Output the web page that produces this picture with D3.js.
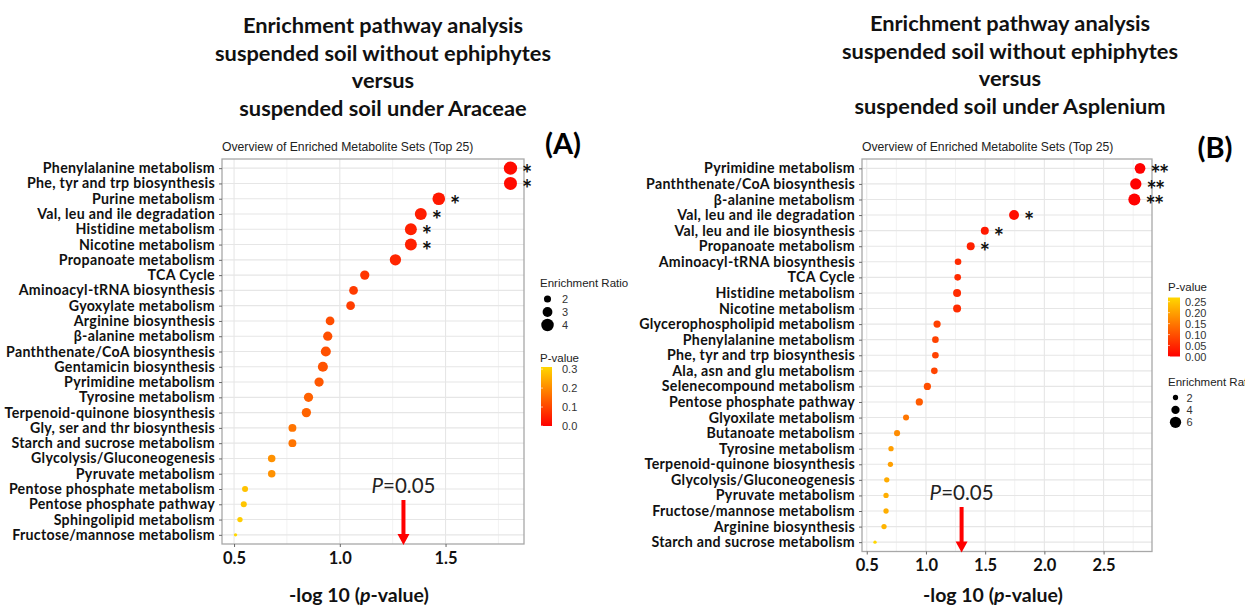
<!DOCTYPE html>
<html>
<head>
<meta charset="utf-8">
<script src="https://cdn.jsdelivr.net/npm/d3@7"></script>
<style>
    body { margin: 0; background: #fff; }
    svg text { font-family: Lato, 'Noto Sans', sans-serif; }
    .legend text, .subtitle { font-family: 'Liberation Sans', Arial, sans-serif; }
</style>
</head>
<body>
<svg id="chart" width="1245" height="607"></svg>
<script>
// Panel A: without ephiphytes vs Araceae
const pathwaysA = [
    'Phenylalanine metabolism', 'Phe, tyr and trp biosynthesis', 'Purine metabolism',
    'Val, leu and ile degradation', 'Histidine metabolism', 'Nicotine metabolism',
    'Propanoate metabolism', 'TCA Cycle', 'Aminoacyl-tRNA biosynthesis', 'Gyoxylate metabolism',
    'Arginine biosynthesis', 'β-alanine metabolism', 'Panththenate/CoA biosynthesis',
    'Gentamicin biosynthesis', 'Pyrimidine metabolism', 'Tyrosine metabolism',
    'Terpenoid-quinone biosynthesis', 'Gly, ser and thr biosynthesis', 'Starch and sucrose metabolism',
    'Glycolysis/Gluconeogenesis', 'Pyruvate metabolism', 'Pentose phosphate metabolism',
    'Pentose phosphate pathway', 'Sphingolipid metabolism', 'Fructose/mannose metabolism'
];
const logPA = [1.807, 1.807, 1.468, 1.383, 1.336, 1.336, 1.263, 1.118, 1.065, 1.051, 0.954, 0.943,
    0.934, 0.92, 0.902, 0.852, 0.842, 0.776, 0.776, 0.678, 0.678, 0.552, 0.546, 0.528, 0.507];
const ratioA = [4.3, 4.2, 4.05, 3.8, 3.8, 3.8, 3.55, 2.8, 2.6, 2.6, 2.6, 2.8, 3.1, 3.1, 2.8, 2.8,
    2.8, 2.3, 2.3, 2.15, 2.15, 1.6, 1.6, 1.35, 0.6];
const starsA = ['*', '*', '*', '*', '*', '*'];
const xTicksA = [0.5, 1.0, 1.5];
const xMinorA = [0.75, 1.25, 1.75];
const ratioKeysA = [2, 3, 4];
const pKeysA = [0, 0.1, 0.2, 0.3];
const titleA = ['Enrichment pathway analysis', 'suspended soil without ephiphytes', 'versus',
    'suspended soil under Araceae'];

// Panel B: without ephiphytes vs Asplenium
const pathwaysB = [
    'Pyrimidine metabolism', 'Panththenate/CoA biosynthesis', 'β-alanine metabolism',
    'Val, leu and ile degradation', 'Val, leu and ile biosynthesis', 'Propanoate metabolism',
    'Aminoacyl-tRNA biosynthesis', 'TCA Cycle', 'Histidine metabolism', 'Nicotine metabolism',
    'Glycerophospholipid metabolism', 'Phenylalanine metabolism', 'Phe, tyr and trp biosynthesis',
    'Ala, asn and glu metabolism', 'Selenecompound metabolism', 'Pentose phosphate pathway',
    'Glyoxilate metabolism', 'Butanoate metabolism', 'Tyrosine metabolism',
    'Terpenoid-quinone biosynthesis', 'Glycolysis/Gluconeogenesis', 'Pyruvate metabolism',
    'Fructose/mannose metabolism', 'Arginine biosynthesis', 'Starch and sucrose metabolism'
];
const logPB = [2.808, 2.772, 2.76, 1.744, 1.497, 1.378, 1.271, 1.268, 1.263, 1.263, 1.094, 1.08,
    1.08, 1.071, 1.012, 0.944, 0.832, 0.756, 0.705, 0.7, 0.669, 0.663, 0.663, 0.646, 0.57];
const ratioB = [5.6, 6.0, 6.5, 5.1, 3.8, 3.8, 2.9, 2.9, 3.8, 3.8, 3.3, 2.9, 2.9, 2.9, 3.3, 3.3,
    2.5, 2.5, 2.0, 2.0, 2.0, 2.0, 2.0, 2.0, 0.7];
const starsB = ['**', '**', '**', '*', '*', '*'];
const xTicksB = [0.5, 1.0, 1.5, 2.0, 2.5];
const xMinorB = [0.75, 1.25, 1.75, 2.25, 2.75];
const ratioKeysB = [2, 4, 6];
const pKeysB = [0, 0.05, 0.1, 0.15, 0.2, 0.25];
const titleB = ['Enrichment pathway analysis', 'suspended soil without ephiphytes', 'versus',
    'suspended soil under Asplenium'];

const subtitle = 'Overview of Enriched Metabolite Sets (Top 25)';
const pCut = 0.05;

const svg = d3.select('#chart');
svg.append('rect').attr('width', 1245).attr('height', 607).attr('fill', '#fff');

function drawPanel(c) {
    const g = svg.append('g');
    const x = d3.scaleLinear().domain(c.xDomain).range([c.left, c.right]);
    const y = d3.scalePoint().domain(c.names).range([c.top, c.bottom]).padding(0.6);
    const pvals = c.logP.map((v) => Math.pow(10, -v));
    const pMax = d3.max(pvals);
    const color = d3.scaleLinear().domain([0, pMax]).range(['#ff0000', '#ffd700']);
    const r = d3.scaleLinear().domain(c.rDomain).range(c.rRange);

    // Titles
    g.append('g')
        .selectAll('text')
        .data(c.title)
        .join('text')
        .attr('x', c.titleX)
        .attr('y', (d, i) => c.titleY + i * 27.5)
        .attr('text-anchor', 'middle')
        .attr('font-size', 21.8)
        .attr('font-weight', 'bold')
        .attr('fill', '#111')
        .text((d) => d);

    g.append('text')
        .attr('x', c.tagX)
        .attr('y', c.tagY)
        .attr('text-anchor', 'middle')
        .attr('font-size', 29)
        .attr('font-weight', 'bold')
        .text(c.tag);

    g.append('text')
        .attr('class', 'subtitle')
        .attr('x', c.left)
        .attr('y', c.top - 8)
        .attr('font-size', 12.2)
        .attr('fill', '#222')
        .text(subtitle);

    // Grid
    g.append('g')
        .selectAll('line')
        .data(c.xMinor.filter((v) => x(v) < c.right))
        .join('line')
        .attr('x1', (d) => x(d)).attr('x2', (d) => x(d))
        .attr('y1', c.top).attr('y2', c.bottom)
        .attr('stroke', '#f2f2f2').attr('stroke-width', 1);
    g.append('g')
        .selectAll('line')
        .data(c.xTicks)
        .join('line')
        .attr('x1', (d) => x(d)).attr('x2', (d) => x(d))
        .attr('y1', c.top).attr('y2', c.bottom)
        .attr('stroke', '#e6e6e6').attr('stroke-width', 1.1);
    g.append('g')
        .selectAll('line')
        .data(c.names)
        .join('line')
        .attr('x1', c.left).attr('x2', c.right)
        .attr('y1', (d) => y(d)).attr('y2', (d) => y(d))
        .attr('stroke', '#e6e6e6').attr('stroke-width', 1.1);
    g.append('rect')
        .attr('x', c.left).attr('y', c.top)
        .attr('width', c.right - c.left).attr('height', c.bottom - c.top)
        .attr('fill', 'none').attr('stroke', '#a8a8a8').attr('stroke-width', 1.3);

    // Axes
    const xAxis = g.append('g')
        .attr('transform', `translate(0,${c.bottom})`)
        .call(d3.axisBottom(x).tickValues(c.xTicks).tickFormat(d3.format('.1f')).tickSize(3).tickPadding(5));
    const yAxis = g.append('g')
        .attr('transform', `translate(${c.left},0)`)
        .call(d3.axisLeft(y).tickSize(3).tickPadding(4));
    [xAxis, yAxis].forEach((a) => {
        a.select('.domain').remove();
        a.selectAll('.tick line').attr('stroke', '#666');
        a.selectAll('.tick text')
            .attr('fill', '#111')
            .attr('font-family', 'Lato, sans-serif')
            .attr('font-weight', 'bold');
    });
    xAxis.selectAll('.tick text').attr('font-size', 16.5);
    yAxis.selectAll('.tick text').attr('font-size', 14.2).attr('letter-spacing', 0.3);

    const xt = g.append('text')
        .attr('x', (c.left + c.right) / 2 - 14)
        .attr('y', 602)
        .attr('text-anchor', 'middle')
        .attr('font-size', 19.5)
        .attr('font-weight', 'bold')
        .attr('fill', '#111');
    xt.append('tspan').text('-log 10 (');
    xt.append('tspan').attr('font-style', 'italic').text('p');
    xt.append('tspan').text('-value)');

    // Points
    const rows = c.names.map((n, i) => ({ name: n, lp: c.logP[i], p: pvals[i], er: c.ratio[i], star: c.stars[i] || '' }));
    g.append('g')
        .selectAll('circle')
        .data(rows)
        .join('circle')
        .attr('cx', (d) => x(d.lp))
        .attr('cy', (d) => y(d.name))
        .attr('r', (d) => r(d.er))
        .attr('fill', (d) => color(d.p));

    g.append('g')
        .selectAll('text')
        .data(rows.filter((d) => d.star))
        .join('text')
        .attr('x', (d) => x(d.lp) + r(d.er) + 5)
        .attr('y', (d) => y(d.name) + 15)
        .attr('font-family', "'DejaVu Sans', sans-serif")
        .attr('font-weight', 'bold')
        .attr('font-size', 24)
        .attr('letter-spacing', -1.5)
        .attr('fill', '#111')
        .text((d) => d.star);

    // P = 0.05 arrow
    const ax = x(-Math.log10(pCut));
    const at = g.append('text')
        .attr('x', ax)
        .attr('y', c.arrowTop - 7)
        .attr('text-anchor', 'middle')
        .attr('font-size', 20.5)
        .attr('fill', '#222');
    at.append('tspan').attr('font-style', 'italic').text('P');
    at.append('tspan').text('=0.05');
    const tip = c.bottom + 1;
    g.append('path')
        .attr('d', `M${ax - 2},${c.arrowTop}H${ax + 2}V${tip - 11}H${ax + 6}L${ax},${tip}L${ax - 6},${tip - 11}H${ax - 2}Z`)
        .attr('fill', '#ff0000');

    // Size legend
    const sl = g.append('g').attr('class', 'legend');
    sl.append('text')
        .attr('x', c.sizeLeg.x).attr('y', c.sizeLeg.y)
        .attr('font-size', 11.5).attr('fill', '#222')
        .text('Enrichment Ratio');
    const keys = sl.selectAll('g.key')
        .data(c.ratioKeys)
        .join('g')
        .attr('transform', (d, i) => `translate(${c.sizeLeg.x + 7.5},${c.sizeLeg.y + 12 + i * c.sizeLeg.step})`);
    keys.append('circle').attr('r', (d) => r(d)).attr('fill', '#000');
    keys.append('text')
        .attr('x', c.sizeLeg.lab - c.sizeLeg.x - 7.5).attr('y', 4)
        .attr('font-size', 11).attr('fill', '#333')
        .text((d) => d);

    // Colour legend
    const cl = g.append('g').attr('class', 'legend');
    cl.append('text')
        .attr('x', c.colLeg.x).attr('y', c.colLeg.y)
        .attr('font-size', 11.5).attr('fill', '#222')
        .text('P-value');
    const gid = 'grad' + c.tag.replace(/\W/g, '');
    const grad = svg.append('defs').append('linearGradient')
        .attr('id', gid).attr('x1', 0).attr('y1', 1).attr('x2', 0).attr('y2', 0);
    d3.range(0, 1.001, 0.1).forEach((t) => {
        grad.append('stop').attr('offset', t).attr('stop-color', color(t * pMax));
    });
    const barH = 59;
    const barBottom = c.colLeg.bottom;
    const by = d3.scaleLinear().domain([0, pMax]).range([barBottom, barBottom - barH]);
    cl.append('rect')
        .attr('x', c.colLeg.barX).attr('y', barBottom - barH)
        .attr('width', c.colLeg.barW).attr('height', barH)
        .attr('fill', `url(#${gid})`);
    cl.selectAll('line')
        .data(c.pKeys)
        .join('line')
        .attr('x1', c.colLeg.barX).attr('x2', c.colLeg.barX + 2)
        .attr('y1', (d) => by(d)).attr('y2', (d) => by(d))
        .attr('stroke', '#fff').attr('stroke-width', 0.6);
    cl.selectAll('text.lab')
        .data(c.pKeys)
        .join('text')
        .attr('class', 'lab')
        .attr('x', c.colLeg.lab).attr('y', (d) => by(d) + 4)
        .attr('font-size', 11).attr('fill', '#333')
        .text((d) => d3.format(c.pFormat)(d));
}

drawPanel({
    names: pathwaysA, logP: logPA, ratio: ratioA, stars: starsA,
    xTicks: xTicksA, xMinor: xMinorA, ratioKeys: ratioKeysA, pKeys: pKeysA, pFormat: '.1f',
    title: titleA, titleX: 383, titleY: 33, tag: '(A)', tagX: 563, tagY: 154,
    xDomain: [0.443, 1.871], left: 222, right: 524, top: 159, bottom: 544,
    rDomain: [0, 4], rRange: [0.85, 6.25],
    arrowTop: 500,
    sizeLeg: { x: 540, y: 287, step: 13, lab: 562 },
    colLeg: { x: 540, y: 362, barX: 541, barW: 11, bottom: 426, lab: 562 }
});

drawPanel({
    names: pathwaysB, logP: logPB, ratio: ratioB, stars: starsB,
    xTicks: xTicksB, xMinor: xMinorB, ratioKeys: ratioKeysB, pKeys: pKeysB, pFormat: '.2f',
    title: titleB, titleX: 1010, titleY: 31, tag: '(B)', tagX: 1215, tagY: 158,
    xDomain: [0.46, 2.909], left: 862, right: 1152, top: 159, bottom: 551.5,
    rDomain: [0, 6], rRange: [1.15, 5.65],
    arrowTop: 507,
    sizeLeg: { x: 1168, y: 385.5, step: 12.4, lab: 1186.5 },
    colLeg: { x: 1168, y: 291, barX: 1168, barW: 12, bottom: 356.5, lab: 1185 }
});
</script>
</body>
</html>
